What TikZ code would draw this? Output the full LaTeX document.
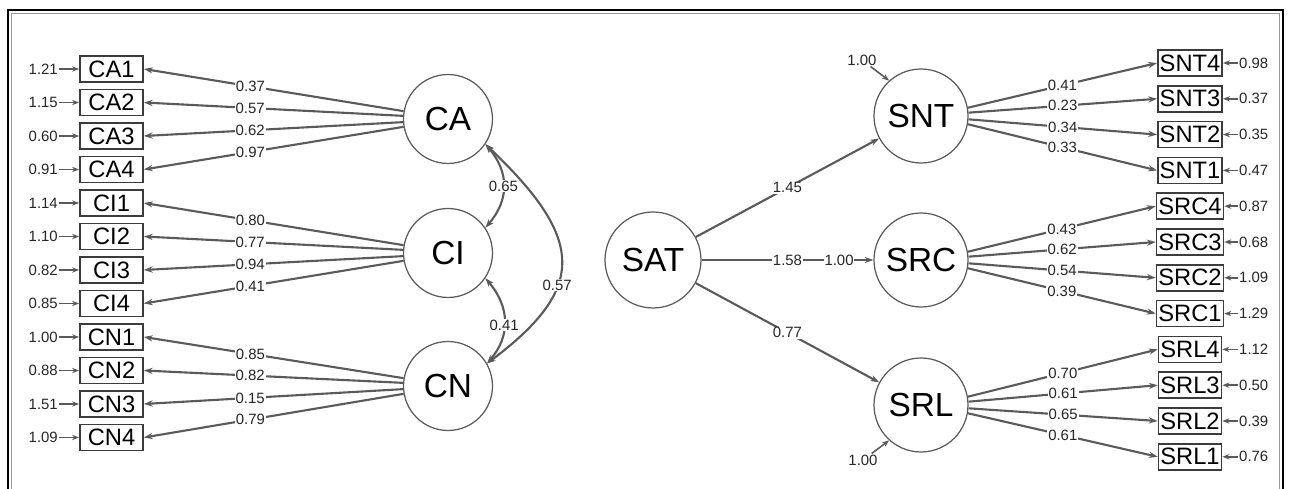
\documentclass[tikz,border=0pt]{standalone}
\usepackage{fontspec}
\setmainfont{Liberation Sans}
\usetikzlibrary{arrows.meta}
\definecolor{pathgray}{HTML}{5A5A5A}
\definecolor{boxgray}{HTML}{3C3C3C}

\begin{document}
\begin{tikzpicture}[x=0.02cm,y=-0.02cm]
\tikzstyle{latent}=[draw=pathgray,line width=0.7pt,shape=circle,minimum size=1.78cm,inner sep=0pt,font=\fontsize{19}{21}\selectfont]
\tikzstyle{item}=[draw=boxgray,line width=1pt,shape=rectangle,minimum width=1.26cm,minimum height=0.52cm,inner sep=1pt,font=\fontsize{13.5}{15}\selectfont]
\tikzstyle{num}=[font=\fontsize{8.5}{9}\selectfont,inner sep=0.5pt,text=black!85]
\tikzstyle{coef}=[num,fill=white]
\tikzstyle{load}=[draw=pathgray,line width=1.2pt,-{Stealth[length=5pt,width=3.5pt]}]
\tikzstyle{resid}=[draw=pathgray,line width=0.9pt,-{Stealth[length=4pt,width=3pt]}]
\tikzstyle{cov}=[draw=pathgray,line width=1.2pt,{Stealth[length=5pt,width=3.5pt]}-{Stealth[length=5pt,width=3.5pt]}]
\useasboundingbox (0,0) rectangle (1289,489);
% frame
\draw[line width=1.6pt] (8,489) -- (8,10) -- (1283,10) -- (1283,489);
\draw[black!40,line width=0.6pt] (11.5,489) -- (11.5,13.5) -- (1279.5,13.5) -- (1279.5,489);

% latent variables
\node[latent] (ca) at (448,119) {CA};
\node[latent] (ci) at (448,253) {CI};
\node[latent] (cn) at (448,386) {CN};
\node[latent,minimum size=1.92cm] (sat) at (653,260) {SAT};
\node[latent,minimum size=1.88cm] (snt) at (921,116) {SNT};
\node[latent,minimum size=1.88cm] (src) at (921,260) {SRC};
\node[latent,minimum size=1.88cm] (srl) at (921,405) {SRL};

% left indicators
\foreach \name/\err/\lam/\fac/\ang [count=\i from 0] in {CA1/1.21/0.37/ca/170, CA2/1.15/0.57/ca/176, CA3/0.60/0.62/ca/184, CA4/0.91/0.97/ca/190,
  CI1/1.14/0.80/ci/170, CI2/1.10/0.77/ci/176, CI3/0.82/0.94/ci/184, CI4/0.85/0.41/ci/190,
  CN1/1.00/0.85/cn/170, CN2/0.88/0.82/cn/176, CN3/1.51/0.15/cn/184, CN4/1.09/0.79/cn/190}{
  \node[item] (\name) at (111.5,{69+33.5*\i}) {\name};
  \node[num,anchor=east] (e\name) at (59,{69+33.5*\i}) {\err};
  \draw[resid] (e\name) -- (\name);
  \draw[load] (\fac.\ang) -- node[coef,pos=0.59]{\lam} (\name.east);
}

% right indicators
\foreach \name/\err/\lam/\fac/\ang [count=\i from 0] in {SNT4/0.98/0.41/snt/10, SNT3/0.37/0.23/snt/4, SNT2/0.35/0.34/snt/-4, SNT1/0.47/0.33/snt/-10,
  SRC4/0.87/0.43/src/10, SRC3/0.68/0.62/src/4, SRC2/1.09/0.54/src/-4, SRC1/1.29/0.39/src/-10,
  SRL4/1.12/0.70/srl/10, SRL3/0.50/0.61/srl/4, SRL2/0.39/0.65/srl/-4, SRL1/0.76/0.61/srl/-10}{
  \node[item,minimum width=1.14cm] (\name) at (1190,{63+35.8*\i}) {\name};
  \node[num,anchor=west] (e\name) at (1238,{63+35.8*\i}) {\err};
  \draw[resid] (e\name) -- (\name);
  \draw[load] (\fac.\ang) -- node[coef,pos=0.5]{\lam} (\name.west);
}

% covariances
\draw[cov] (ca.-34) .. controls +(24,28) and +(24,-28) .. node[coef]{0.65} (ci.34);
\draw[cov] (ci.-34) .. controls +(24,28) and +(24,-28) .. node[coef,pos=0.55]{0.41} (cn.30);
\draw[cov] (ca.-34) .. controls +(100,95) and +(100,-75) .. node[coef,pos=0.62]{0.57} (cn.30);

% structural paths
\draw[load] (sat) -- node[coef]{1.45} (snt);
\draw[load] (sat) -- node[coef,pos=0.5]{1.58} node[coef,pos=0.8]{1.00} (src);
\draw[load] (sat) -- node[coef]{0.77} (srl);

% disturbances
\node[num] (dsnt) at (862,60) {1.00};
\draw[resid] (dsnt) -- (snt.132);
\node[num] (dsrl) at (863,460) {1.00};
\draw[resid] (dsrl) -- (srl.228);
\end{tikzpicture}
\end{document}
